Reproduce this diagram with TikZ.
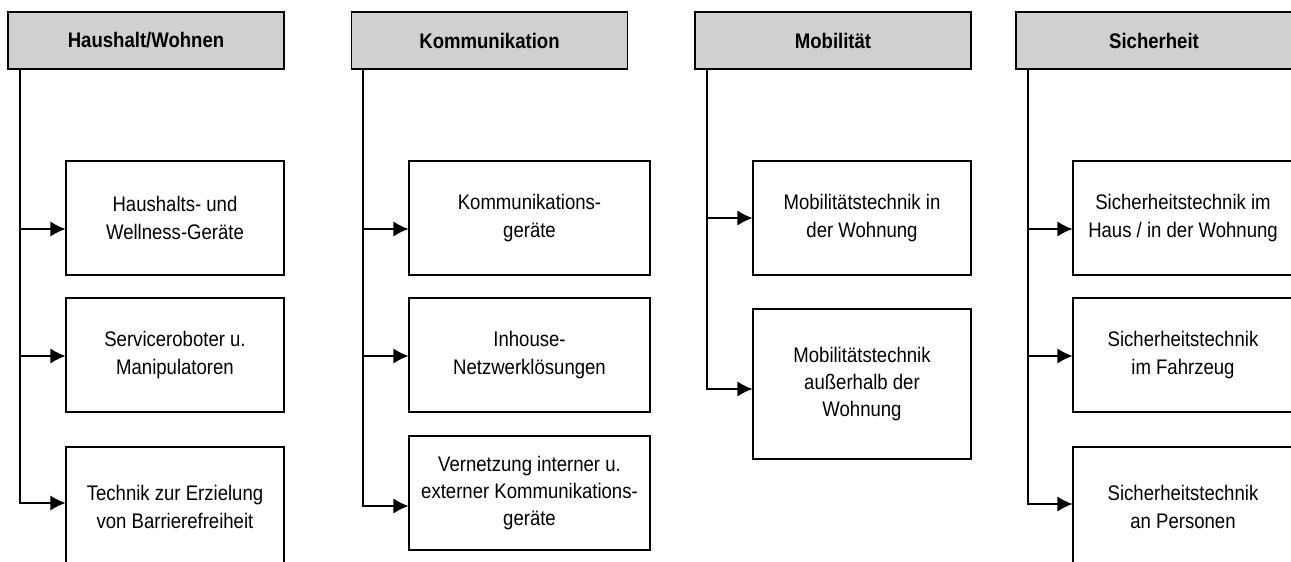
\documentclass[tikz,border=0pt]{standalone}
\usepackage{fontspec}
\setmainfont[FakeStretch=0.88]{Liberation Sans}
\usetikzlibrary{arrows.meta}

\definecolor{headgray}{RGB}{208,208,208}

\tikzset{
    head/.style={draw, fill=headgray, minimum width=5.52cm, minimum height=1.14cm,
        inner sep=0pt, font=\fontsize{12}{15.5}\selectfont\bfseries},
    item/.style={draw, minimum width=4.36cm, minimum height=2.28cm, inner sep=0pt,
        align=center, font=\fontsize{12}{15.5}\selectfont},
    link/.style={-{Latex[length=0.3cm,width=0.3cm]}},
}

\begin{document}
\begin{tikzpicture}[line width=0.6pt]
            \useasboundingbox (0,0) rectangle (25.82,-11.22);
            \clip (0,0) rectangle (25.82,-11.22);

            % Haushalt/Wohnen
            \node [head] (hw) at (2.92,-0.81) {Haushalt/Wohnen};
            \node [item] (hw1) at (3.50,-4.36) {Haushalts- und\\Wellness-Geräte};
            \node [item] (hw2) at (3.50,-7.10) {Serviceroboter u.\\Manipulatoren};
            \node [item, minimum height=2.4cm] (hw3) at (3.50,-10.14) {Technik zur Erzielung\\von Barrierefreiheit};
            \coordinate (hwt) at (0.40,-1.38);
            \draw [link] (hwt) |- ([yshift=-0.22cm]hw1.west);
            \draw [link] (hwt) |- ([yshift=-0.02cm]hw2.west);
            \draw [link] (hwt) |- ([yshift=0.08cm]hw3.west);

            % Kommunikation
            \node [head] (ko) at (9.79,-0.81) {Kommunikation};
            \node [item, minimum width=4.82cm] (ko1) at (10.59,-4.36) {Kommunikations-\\geräte};
            \node [item, minimum width=4.82cm] (ko2) at (10.59,-7.10) {Inhouse-\\Netzwerklösungen};
            \node [item, minimum width=4.82cm] (ko3) at (10.59,-9.86) {Vernetzung interner u.\\externer Kommunikations-\\geräte};
            \coordinate (kot) at (7.26,-1.38);
            \draw [link] (kot) |- ([yshift=-0.22cm]ko1.west);
            \draw [link] (kot) |- ([yshift=-0.02cm]ko2.west);
            \draw [link] (kot) |- ([yshift=-0.26cm]ko3.west);

            % Mobilitaet
            \node [head] (mo) at (16.66,-0.81) {Mobilität};
            \node [item] (mo1) at (17.24,-4.36) {Mobilitätstechnik in\\der Wohnung};
            \node [item, minimum height=3.0cm] (mo2) at (17.24,-7.68) {Mobilitätstechnik\\außerhalb der\\Wohnung};
            \coordinate (mot) at (14.14,-1.38);
            \draw [link] (mot) |- (mo1.west);
            \draw [link] (mot) |- ([yshift=-0.10cm]mo2.west);

            % Sicherheit
            \node [head] (si) at (23.08,-0.81) {Sicherheit};
            \node [item, minimum width=4.40cm] (si1) at (23.66,-4.36) {Sicherheitstechnik im\\Haus / in der Wohnung};
            \node [item, minimum width=4.40cm] (si2) at (23.66,-7.10) {Sicherheitstechnik\\im Fahrzeug};
            \node [item, minimum width=4.40cm, minimum height=2.4cm] (si3) at (23.66,-10.14) {Sicherheitstechnik\\an Personen};
            \coordinate (sit) at (20.56,-1.38);
            \draw [link] (sit) |- ([yshift=-0.22cm]si1.west);
            \draw [link] (sit) |- ([yshift=-0.02cm]si2.west);
            \draw [link] (sit) |- ([yshift=0.06cm]si3.west);
\end{tikzpicture}
\end{document}
